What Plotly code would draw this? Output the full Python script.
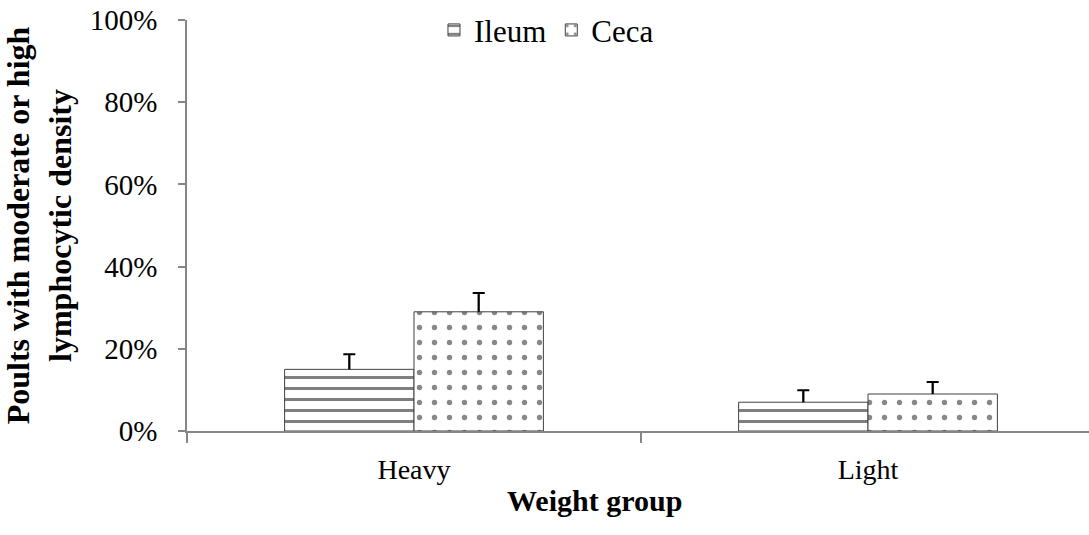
import plotly.graph_objects as go

categories = ["Heavy", "Light"]
ileum = [0.15, 0.07]
ileum_err = [0.037, 0.029]
ceca = [0.29, 0.09]
ceca_err = [0.046, 0.029]
y_ticks = [0, 0.2, 0.4, 0.6, 0.8, 1.0]
y_tick_labels = ["0%", "20%", "40%", "60%", "80%", "100%"]

font_family = "Liberation Serif, Times New Roman, serif"
FIG_W = 1095
L_MARGIN = 187

fig = go.Figure()
fig.add_trace(go.Bar(
    name="Ileum", x=categories, y=ileum, offsetgroup="ileum",
    marker=dict(color="white", line=dict(color="#404040", width=1),
                pattern=dict(shape="-", fgcolor="black", bgcolor="white",
                             size=11, solidity=0.2727, fillmode="overlay")),
))
fig.add_trace(go.Bar(
    name="Ceca", x=categories, y=ceca, offsetgroup="ceca",
    marker=dict(color="white", line=dict(color="#404040", width=1),
                pattern=dict(shape=".", fgcolor="#111111", bgcolor="white",
                             size=15, solidity=0.1, fillmode="overlay")),
))
# upper-only error bars: thin stem bar from the value upward, capped at the top
for vals, errs, grp in [(ileum, ileum_err, "ileum"), (ceca, ceca_err, "ceca")]:
    fig.add_trace(go.Bar(
        x=categories, y=errs, base=vals, offsetgroup=grp, width=0.005,
        marker=dict(color="black", line=dict(width=0)), showlegend=False, hoverinfo="skip",
        error_y=dict(type="data", array=[0, 0], color="black", thickness=2, width=6),
    ))

fig.update_layout(
    width=FIG_W, height=535,
    margin=dict(l=L_MARGIN, r=0, t=20, b=104),
    plot_bgcolor="white", paper_bgcolor="white",
    barmode="group", bargap=0.43, bargroupgap=0,
    font=dict(family=font_family, size=28, color="black"),
    legend=dict(orientation="h", x=0.272, y=0.975, xanchor="left", yanchor="middle",
                font=dict(size=31, family=font_family), bgcolor="rgba(0,0,0,0)", itemwidth=30,
                traceorder="normal"),
    showlegend=True,
)
fig.update_xaxes(
    showline=True, linecolor="#868686", linewidth=1.5,
    ticks="outside", tickson="boundaries", ticklen=10, tickcolor="#868686", tickwidth=1.5,
    showgrid=False, ticklabelstandoff=13,
    tickfont=dict(size=28, family=font_family),
)
fig.update_yaxes(
    range=[0, 1.0], tickvals=y_ticks, ticktext=y_tick_labels,
    showline=True, linecolor="#868686", linewidth=1.5,
    ticks="outside", ticklen=7, tickcolor="#868686", tickwidth=1.5,
    showgrid=False, zeroline=False, ticklabelstandoff=15,
    tickfont=dict(size=29, family=font_family),
    title=dict(text="<b>Poults with moderate or high<br>lymphocytic density</b>",
               font=dict(size=32, family=font_family), standoff=10),
)
fig.add_annotation(
    text="<b>Weight group</b>", xref="paper", yref="paper",
    x=(594 - L_MARGIN) / (FIG_W - L_MARGIN), y=-0.168, xanchor="center", yanchor="middle",
    showarrow=False, font=dict(size=30, family=font_family, color="black"),
)

fig.write_html("out.html", config={"displayModeBar": False},
               post_script="document.body.style.margin='0';document.body.style.overflow='hidden';")
